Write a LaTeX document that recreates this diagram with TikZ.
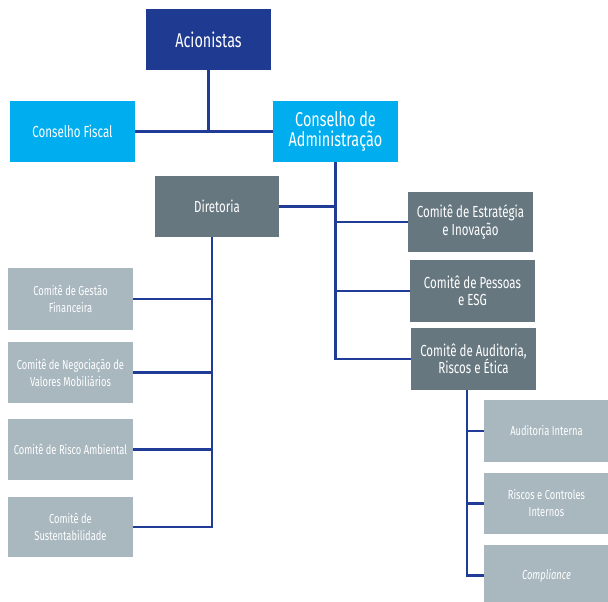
\documentclass[tikz,border=0pt]{standalone}
\usepackage{fontspec}
\setmainfont{Fira Sans}[FakeStretch=0.72]
\usepackage{tikz}
\usetikzlibrary{positioning}
\definecolor{acionblue}{RGB}{31,58,145}
\definecolor{conselhoblue}{RGB}{0,174,239}
\definecolor{diretgray}{RGB}{103,119,128}
\definecolor{comitegray}{RGB}{169,183,191}
\definecolor{linkblue}{RGB}{33,60,150}

\begin{document}
\begin{tikzpicture}[x=1pt, y=-1pt,
    box/.style={rectangle, minimum width=125pt, minimum height=61pt, text=white, align=center, inner sep=2pt},
    big/.style={box, font=\fontsize{20}{20}\selectfont},
    mid/.style={box, font=\fontsize{16}{17.5}\selectfont},
    small/.style={box, font=\fontsize{13}{17}\selectfont},
    link/.style={linkblue, line width=2.6pt}]
        \useasboundingbox (0,0) rectangle (608,602);

        % Top boxes
        \node[big, fill=acionblue] (acion) at (208.5, 39.5) {Acionistas};
        \node[mid, fill=conselhoblue] (fiscal) at (72.5, 131.5) {Conselho Fiscal};
        \node[big, fill=conselhoblue] (conselho) at (335.5, 131.5) {Conselho de\\Administração};
        \node[mid, fill=diretgray, minimum width=124pt] (diret) at (217, 206.5) {Diretoria};

        % Board committees
        \node[mid, fill=diretgray, minimum height=60pt] (estrat) at (470.5, 222) {Comitê de Estratégia\\e Inovação};
        \node[mid, fill=diretgray, minimum height=62pt] (pessoas) at (472.5, 291) {Comitê de Pessoas\\e ESG};
        \node[mid, fill=diretgray, minimum height=62pt] (audit) at (473.5, 359) {Comitê de Auditoria,\\Riscos e Ética};

        % Executive committees
        \node[small, fill=comitegray, minimum height=62pt] (gestao) at (70.5, 299) {Comitê de Gestão\\Financeira};
        \node[small, fill=comitegray] (negoc) at (70.5, 372.5) {Comitê de Negociação de\\Valores Mobiliários};
        \node[small, fill=comitegray] (ambient) at (70.5, 449.5) {Comitê de Risco Ambiental};
        \node[small, fill=comitegray, minimum height=60pt] (sust) at (70.5, 527) {Comitê de\\Sustentabilidade};

        % Audit areas
        \node[small, fill=comitegray, minimum height=62pt] (interna) at (546.5, 431) {Auditoria Interna};
        \node[small, fill=comitegray] (riscos) at (546.5, 503.5) {Riscos e Controles\\Internos};
        \node[small, fill=comitegray] (compl) at (546.5, 575.5) {\textit{Compliance}};

        % Spine starts
        \coordinate (dtop) at ([xshift=-5pt]diret.south);
        \coordinate (atop) at ([xshift=-6.5pt]audit.south);

        % Links
        \draw[link] (acion.south) -- (acion.south |- fiscal.east);
        \draw[link] (fiscal.east) -- (conselho.west);

        \draw[link] (conselho.south) -- (conselho.south |- audit.west) -- (audit.west);
        \draw[link] (diret.east) -- (diret.east -| conselho.south);
        \foreach \c in {estrat, pessoas}
            \draw[link] (conselho.south |- \c.west) -- (\c.west);

        \draw[link] (dtop) -- (dtop |- sust.east) -- (sust.east);
        \foreach \c in {gestao, negoc, ambient}
            \draw[link] (dtop |- \c.east) -- (\c.east);

        \draw[link] (atop) -- (atop |- compl.west) -- (compl.west);
        \foreach \c in {interna, riscos}
            \draw[link] (atop |- \c.west) -- (\c.west);
    \end{tikzpicture}
\end{document}
